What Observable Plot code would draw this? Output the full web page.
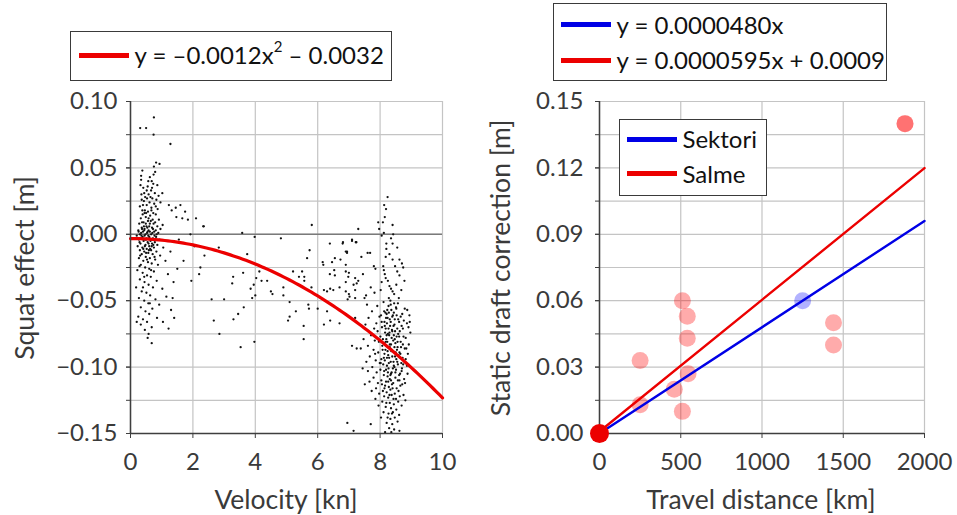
<!DOCTYPE html>
<html><head><meta charset="utf-8">
<script src="https://cdn.jsdelivr.net/npm/d3@7"></script>
<script src="https://cdn.jsdelivr.net/npm/@observablehq/plot@0.6"></script>
<style>
body{margin:0;background:#fff;font-family:Lato,"Open Sans",sans-serif;}
#wrap{position:relative;width:957px;height:515px;overflow:hidden;background:#fff;}
.panel{position:absolute;top:0;}
.title{position:absolute;white-space:nowrap;font-size:26.5px;color:#3a3a3a;transform:translate(-50%,-50%);line-height:30px;}
.title.rot{transform:translate(-50%,-50%) rotate(-90deg);}
.legend{position:absolute;background:#fff;border:1.5px solid #3a3a3a;box-sizing:border-box;font-size:24px;color:#111;}
.row{position:absolute;display:flex;align-items:center;white-space:nowrap;height:30px;line-height:30px;}
.sw{display:inline-block;width:50px;height:5px;margin-right:6px;}
sup{font-size:15px;line-height:0;position:relative;top:-3px;vertical-align:super;}
</style></head>
<body>
<div id="wrap">
  <div id="left" class="panel" style="left:0"></div>
  <div id="right" class="panel" style="left:480px"></div>
</div>
<script>
// ---------- Left panel data: squat effect [m] vs velocity [kn] ----------
const lowSpeed = [
[0.75,0.088],[0.31,0.080],[0.50,0.080],[0.74,0.075],[1.28,0.068],
[0.82,0.054],[0.93,0.053],[0.75,0.051],[0.38,0.048],[0.79,0.047],
[0.34,0.044],[0.34,0.041],[0.62,0.043],[0.68,0.040],[0.73,0.038],
[0.86,0.037],[0.55,0.036],[0.41,0.035],[0.66,0.033],[0.78,0.031],
[1.02,0.031],[0.35,0.030],[0.58,0.030],[0.90,0.029],[0.47,0.028],
[0.70,0.027],[0.83,0.026],[0.43,0.025],[0.61,0.024],[0.76,0.023],
[0.96,0.024],[0.52,0.022],[1.23,0.022],[0.30,0.021],[0.67,0.020],
[0.87,0.019],[1.32,0.018],[0.46,0.018],[0.56,0.017],[0.73,0.016],
[0.39,0.015],[0.81,0.015],[0.63,0.014],[1.47,0.013],[0.49,0.013],
[1.66,0.012],[0.33,0.012],[0.71,0.011],[0.91,0.011],[0.56,0.010],
[0.42,0.009],[1.84,0.011],[0.79,0.009],[0.28,0.008],[0.62,0.008],
[1.03,0.007],[0.51,0.006],[0.86,0.006],[0.36,0.005],[0.69,0.005],
[0.45,0.004],[0.96,0.004],[0.25,0.003],[0.58,0.003],[0.76,0.002],
[0.40,0.002],[0.53,0.001],[0.89,0.001],[0.30,0.000],[0.66,0.000],
[0.45,-0.001],[0.20,-0.001],[0.60,-0.002],[0.82,-0.002],[0.35,-0.003],
[0.72,-0.003],[0.50,-0.004],[0.27,-0.004],[0.93,-0.004],[0.64,-0.005],
[0.42,-0.005],[0.78,-0.006],[0.55,-0.006],[0.32,-0.007],[0.69,-0.007],
[0.48,-0.008],[0.86,-0.008],[0.23,-0.009],[0.60,-0.009],[0.38,-0.010],
[0.75,-0.010],[1.05,-0.010],[0.52,-0.011],[0.66,-0.012],[0.30,-0.012],
[0.44,-0.013],[0.83,-0.013],[0.57,-0.014],[0.71,-0.015],[0.36,-0.015],
[0.95,-0.016],[0.49,-0.017],[0.62,-0.018],[0.27,-0.018],[0.79,-0.019],
[0.41,-0.020],[0.56,-0.021],[1.12,-0.020],[0.68,-0.022],[0.33,-0.023],
[0.88,-0.023],[0.47,-0.025],[0.60,-0.026],[0.22,-0.027],[0.75,-0.028],
[0.39,-0.029],[1.20,-0.030],[0.53,-0.031],[0.65,-0.032],[0.30,-0.034],
[0.84,-0.035],[0.45,-0.036],[0.58,-0.038],[0.18,-0.040],[0.72,-0.040],
[1.02,-0.041],[0.36,-0.043],[0.51,-0.044],[0.63,-0.046],[0.27,-0.048],
[0.80,-0.049],[1.15,-0.047],[0.44,-0.050],[0.57,-0.052],[0.92,-0.053],
[0.33,-0.055],[0.70,-0.056],[0.48,-0.058],[1.30,-0.057],[0.60,-0.060],
[0.25,-0.062],[0.85,-0.063],[0.40,-0.064],[0.53,-0.066],[1.04,-0.066],
[0.33,-0.068],[0.68,-0.070],[1.22,-0.071],[0.46,-0.072],[0.58,-0.075],
[0.55,-0.078],[0.68,-0.082],[0.20,-0.066],[1.40,-0.063],[1.35,-0.048],
[0.34,0.001],[0.48,0.000],[0.57,-0.001],[0.70,0.001],[0.39,-0.002],
[0.62,0.002],[0.52,-0.003],[0.44,0.003],[0.77,-0.001],[0.29,-0.006],
[0.66,-0.004],[0.58,-0.007],[0.46,-0.009],[0.73,-0.008],[0.37,0.004],
[0.54,0.005],[0.81,0.003],[0.41,-0.011],[0.63,-0.011],[0.50,-0.014],
[0.31,-0.016],[0.77,-0.017],[0.58,0.012],[0.45,0.016],[0.67,0.018],
[0.36,0.026],[0.52,0.033],[0.74,0.045],[0.64,0.028],[0.40,0.022],
[0.43,0.006],[0.61,-0.003],[0.55,0.002],[0.68,-0.009],[0.35,-0.001],
[0.49,0.008],[0.72,0.004],[0.59,-0.012],[0.47,-0.004],[0.84,0.000],
[0.26,0.002],[0.65,0.010],[0.53,-0.019],[0.38,0.018],[0.80,-0.004],
[0.32,0.037],[0.57,0.040],[0.69,0.035],[0.44,0.031],[0.81,0.021],
[0.53,0.027],[0.37,0.009],[0.60,0.006],[0.74,0.008],[0.50,0.016],
[0.29,-0.024],[0.44,-0.032],[0.66,-0.027],[0.40,-0.040],[0.62,-0.052],
[1.45,0.020],[1.60,0.022],[1.75,0.017],[2.10,0.012],[2.33,0.006],
[1.92,0.000],[1.55,-0.004],[2.05,-0.009],[1.28,-0.013],[1.70,-0.020],
[1.50,-0.026],[1.95,-0.035],[1.38,-0.036],[2.20,-0.030]
];
const midSpeed = [
[2.35,0.006],[5.81,0.007],[3.58,0.001],[3.98,-0.002],[4.82,-0.003],[7.30,0.004],
[2.83,-0.010],[2.37,-0.016],[3.74,-0.015],[5.74,-0.012],[5.66,-0.018],[6.39,-0.007],
[6.80,-0.007],[7.10,-0.005],[7.24,-0.006],[6.94,-0.013],[6.55,-0.018],[6.16,-0.021],
[6.18,-0.023],[6.73,-0.019],[6.46,-0.021],[6.90,-0.023],[2.24,-0.025],[3.29,-0.032],
[3.61,-0.029],[3.26,-0.037],[4.13,-0.028],[4.03,-0.033],[4.20,-0.035],[4.38,-0.035],
[3.95,-0.038],[3.85,-0.041],[4.50,-0.043],[3.90,-0.048],[4.00,-0.046],[4.90,-0.040],
[4.90,-0.046],[5.21,-0.028],[5.40,-0.032],[5.50,-0.028],[5.57,-0.032],[5.57,-0.035],
[5.80,-0.040],[6.39,-0.030],[6.55,-0.031],[6.53,-0.027],[6.90,-0.028],[7.00,-0.029],
[6.20,-0.042],[6.30,-0.043],[6.40,-0.041],[6.50,-0.042],[6.70,-0.040],[6.90,-0.036],
[7.20,-0.033],[7.00,-0.045],[7.02,-0.047],[7.20,-0.042],[7.25,-0.037],[2.60,-0.049],
[3.00,-0.049],[3.63,-0.055],[5.10,-0.051],[5.70,-0.053],[5.72,-0.056],[6.00,-0.056],
[6.30,-0.058],[6.40,-0.065],[6.20,-0.068],[6.70,-0.067],[7.20,-0.063],[5.10,-0.062],
[5.05,-0.065],[2.67,-0.065],[3.30,-0.064],[5.55,-0.069],[2.85,-0.075],[3.97,-0.081],
[3.53,-0.085],[5.55,-0.079],[7.10,-0.084],[7.25,-0.086],[7.15,-0.148],[6.95,-0.142],
[4.55,-0.045],[5.30,-0.058],[3.45,-0.060]
];
const highSpeed = [
[8.24,0.028],[8.13,0.022],[8.19,0.019],[8.15,0.013],[8.09,0.009],[7.94,0.009],[8.40,0.007],
[7.97,0.004],[8.12,0.001],[8.42,0.000],[8.05,-0.001],[8.35,-0.003],[6.81,-0.006],[7.10,-0.004],
[7.22,-0.006],[8.20,-0.007],[8.40,-0.007],[6.90,-0.013],[6.94,-0.014],[7.40,-0.017],[7.60,-0.014],
[7.68,-0.014],[8.20,-0.011],[8.18,-0.017],[8.40,-0.019],[8.62,-0.019],[8.70,-0.022],[8.74,-0.025],
[7.80,-0.024],[7.85,-0.026],[8.10,-0.024],[8.12,-0.027],[8.15,-0.030],[8.18,-0.033],[6.98,-0.032],
[7.15,-0.038],[7.30,-0.035],[7.45,-0.030],[8.25,-0.035],[8.30,-0.039],[8.35,-0.041],[8.40,-0.043],
[8.45,-0.045],[8.55,-0.028],[8.62,-0.031],[8.52,-0.038],[8.68,-0.042],[7.70,-0.040],[7.55,-0.046],
[7.50,-0.048],[7.82,-0.044],[6.90,-0.043],[7.20,-0.048],[6.96,-0.049],[8.05,-0.036],[8.48,-0.024],
[8.30,-0.015],[8.55,-0.010],[8.02,-0.042],[8.78,-0.035],[8.28,-0.048],[8.60,-0.048],
[8.11,-0.051],[8.27,-0.054],[8.33,-0.050],[8.51,-0.055],[8.57,-0.052],[8.79,-0.056],[8.13,-0.058],
[8.36,-0.057],[8.44,-0.059],[8.52,-0.056],[8.71,-0.060],[8.87,-0.057],[7.58,-0.053],[7.74,-0.058],
[7.91,-0.054],[8.03,-0.061],[8.21,-0.060],[8.24,-0.063],[8.41,-0.061],[8.47,-0.064],[8.66,-0.062],
[8.76,-0.065],[8.94,-0.061],[7.63,-0.063],[7.98,-0.062],[8.14,-0.066],[8.22,-0.067],[8.31,-0.064],
[8.46,-0.068],[8.61,-0.066],[8.69,-0.069],[8.86,-0.067],[8.06,-0.070],[8.18,-0.071],[8.32,-0.069],
[8.38,-0.072],[8.55,-0.071],[8.63,-0.073],[8.91,-0.070],[7.53,-0.068],[7.81,-0.071],[7.88,-0.067],
[8.16,-0.074],[8.25,-0.075],[8.39,-0.073],[8.44,-0.076],[8.58,-0.075],[8.75,-0.077],[8.97,-0.074],
[8.01,-0.077],[8.20,-0.079],[8.29,-0.076],[8.42,-0.080],[8.53,-0.077],[8.66,-0.081],[8.82,-0.078],
[7.71,-0.076],[7.83,-0.080],[7.47,-0.079],[8.12,-0.082],[8.23,-0.081],[8.35,-0.083],[8.49,-0.082],
[8.56,-0.085],[8.73,-0.083],[8.84,-0.086],[8.07,-0.084],[8.17,-0.087],[8.31,-0.085],[8.41,-0.088],
[8.54,-0.087],[8.62,-0.089],[8.79,-0.086],[7.61,-0.084],[7.79,-0.087],[7.94,-0.089],[7.38,-0.086],
[8.14,-0.090],[8.26,-0.091],[8.36,-0.088],[8.48,-0.092],[8.59,-0.091],[8.72,-0.093],[8.89,-0.090],
[8.04,-0.094],[8.15,-0.095],[8.29,-0.093],[8.43,-0.096],[8.52,-0.094],[8.68,-0.097],[7.67,-0.092],
[7.86,-0.095],[7.99,-0.097],[7.56,-0.096],[8.10,-0.098],[8.22,-0.099],[8.34,-0.096],[8.46,-0.100],
[8.57,-0.098],[8.70,-0.101],[8.86,-0.099],[8.01,-0.102],[8.13,-0.103],[8.27,-0.101],[8.37,-0.104],
[8.51,-0.102],[8.64,-0.105],[7.75,-0.100],[7.89,-0.104],[7.61,-0.103],[7.44,-0.101],[8.12,-0.106],
[8.24,-0.107],[8.35,-0.105],[8.49,-0.108],[8.61,-0.106],[8.77,-0.109],[8.04,-0.110],[8.19,-0.111],
[8.31,-0.109],[8.42,-0.112],[8.57,-0.110],[8.71,-0.113],[7.79,-0.108],[7.93,-0.112],[7.66,-0.111],
[7.51,-0.113],[8.16,-0.114],[8.28,-0.115],[8.38,-0.113],[8.53,-0.116],[8.65,-0.114],[8.09,-0.118],
[8.21,-0.119],[8.33,-0.117],[8.47,-0.120],[8.59,-0.118],[8.75,-0.121],[7.87,-0.116],[7.97,-0.120],
[7.73,-0.118],[8.13,-0.122],[8.26,-0.123],[8.37,-0.121],[8.51,-0.124],[8.63,-0.122],[8.81,-0.125],
[8.07,-0.126],[8.31,-0.127],[8.44,-0.128],[8.58,-0.126],[7.95,-0.129],[8.18,-0.130],[8.35,-0.131],
[8.52,-0.132],[8.69,-0.129],[8.11,-0.134],[8.27,-0.135],[8.41,-0.134],[8.61,-0.136],[8.03,-0.138],
[8.33,-0.139],[8.47,-0.138],[8.21,-0.142],[8.39,-0.143],[8.56,-0.141],[8.29,-0.146],[8.45,-0.147],
[8.16,-0.149],[8.36,-0.149],[8.62,-0.148],[7.85,-0.124],[7.70,-0.143],
[8.19,-0.063],[8.34,-0.066],[8.27,-0.071],[8.43,-0.069],[8.21,-0.076],[8.37,-0.078],[8.31,-0.083],
[8.46,-0.085],[8.24,-0.088],[8.39,-0.092],[8.28,-0.097],[8.44,-0.099],[8.19,-0.102],[8.33,-0.106],
[8.49,-0.104],[8.26,-0.111],[8.40,-0.116],[8.17,-0.059],[8.48,-0.073],[8.56,-0.081],[8.65,-0.090],
[8.09,-0.079],[8.12,-0.093],[8.05,-0.066],[8.34,-0.053],[8.58,-0.064],[8.73,-0.071],[8.82,-0.094],
[8.69,-0.103],[8.80,-0.112],
[8.23,-0.057],[8.39,-0.062],[8.15,-0.069],[8.30,-0.074],[8.47,-0.079],[8.18,-0.081],[8.36,-0.087],
[8.22,-0.093],[8.41,-0.101],[8.25,-0.104],[8.35,-0.110],[8.14,-0.116],[8.30,-0.121],[8.43,-0.124],
[8.20,-0.127],[8.38,-0.135],[8.24,-0.138],[8.53,-0.061],[8.61,-0.077],[8.50,-0.089],[8.67,-0.085],
[8.55,-0.096],[8.74,-0.098],[8.62,-0.110],[8.08,-0.087],[8.02,-0.097],[8.06,-0.113],[7.96,-0.081],
[7.92,-0.073],[7.84,-0.090],[8.45,-0.052],[8.28,-0.059],[8.92,-0.083],[8.95,-0.066],[8.88,-0.105]
];
const fitA = -0.0012, fitC = -0.0032;          // y = a x^2 + c
const velTicks = [0, 2, 4, 6, 8, 10];
const squatTicks = [-0.15, -0.10, -0.05, 0.00, 0.05, 0.10];
const squatGrid = [-0.15,-0.125,-0.10,-0.075,-0.05,-0.025,0,0.025,0.05,0.075,0.10];

// ---------- Right panel data: static draft correction [m] vs travel distance [km] ----------
const salmeDist = [250, 250, 510, 540, 540, 545, 460, 510, 1440, 1440, 1880, 1880];
const salmeCorr = [0.033, 0.013, 0.060, 0.053, 0.043, 0.027, 0.020, 0.010, 0.050, 0.040, 0.140, 0.140];
const sektoriDist = [1250];
const sektoriCorr = [0.060];
const originDist = [0], originCorr = [0];
const sektoriSlope = 0.0000480, sektoriIntercept = 0;
const salmeSlope = 0.0000595, salmeIntercept = 0.0009;
const distTicks = [0, 500, 1000, 1500, 2000];
const corrTicks = [0, 0.03, 0.06, 0.09, 0.12, 0.15];
const corrGrid = [0,0.015,0.03,0.045,0.06,0.075,0.09,0.105,0.12,0.135,0.15];

const GRID = "#c4c4c4", AXIS = "#3f3f3f", RED = "#ec0000", BLUE = "#0000e6";
const fmt2 = d3.format(".2f");
const fmtInt = d3.format("d");
const style = {fontFamily: "Lato, 'Open Sans', sans-serif", fontSize: "24px", color: "#3a3a3a", background: "transparent", overflow: "visible"};

const squatPts = [...lowSpeed, ...midSpeed, ...highSpeed].map(([v, s]) => ({v, s}));
const fitXs = d3.range(0, 10.001, 0.1);
const fitCurve = fitXs.map(x => ({x, y: fitA * x * x + fitC}));

const left = Plot.plot({
  width: 470, height: 515,
  marginLeft: 130, marginRight: 28, marginTop: 101, marginBottom: 82,
  x: {domain: [0, 10]},
  y: {domain: [-0.15, 0.10]},
  style,
  marks: [
    Plot.gridY(squatGrid, {stroke: GRID, strokeOpacity: 1, strokeWidth: 1.2}),
    Plot.gridX(velTicks, {stroke: GRID, strokeOpacity: 1, strokeWidth: 1.2}),
    Plot.ruleY([0], {stroke: "#7a7a7a", strokeWidth: 1.5}),
    Plot.dot(squatPts, {x: "v", y: "s", r: 1.15, fill: "#111", stroke: "none"}),
    Plot.line(fitCurve, {x: "x", y: "y", stroke: RED, strokeWidth: 3.2}),
    Plot.ruleX([0], {stroke: AXIS, strokeWidth: 1.5}),
    Plot.ruleY([-0.15], {stroke: AXIS, strokeWidth: 1.5}),
    Plot.axisY(squatGrid, {tickSize: 4, text: null, stroke: AXIS, label: null}),
    Plot.axisY(squatTicks, {tickSize: 4, tickPadding: 9, tickFormat: fmt2, stroke: AXIS, label: null}),
    Plot.axisX(velTicks, {tickSize: 5, tickPadding: 14, tickFormat: fmtInt, stroke: AXIS, label: null})
  ]
});
document.getElementById("left").append(left);

const lineXs = [0, 2000];
const lines = [
  ...lineXs.map(x => ({x, y: sektoriSlope * x + sektoriIntercept, k: "Sektori"})),
  ...lineXs.map(x => ({x, y: salmeSlope * x + salmeIntercept, k: "Salme"}))
];
const salme = salmeDist.map((d, i) => ({d, c: salmeCorr[i]}));
const sektori = sektoriDist.map((d, i) => ({d, c: sektoriCorr[i]}));
const origin = originDist.map((d, i) => ({d, c: originCorr[i]}));

const right = Plot.plot({
  width: 477, height: 515,
  marginLeft: 119, marginRight: 33, marginTop: 101, marginBottom: 82,
  x: {domain: [0, 2000]},
  y: {domain: [0, 0.15]},
  style,
  marks: [
    Plot.gridY(corrGrid, {stroke: GRID, strokeOpacity: 1, strokeWidth: 1.2}),
    Plot.gridX(distTicks, {stroke: GRID, strokeOpacity: 1, strokeWidth: 1.2}),
    Plot.ruleX([0], {stroke: AXIS, strokeWidth: 1.5}),
    Plot.ruleY([0], {stroke: AXIS, strokeWidth: 1.5}),
    Plot.axisY(corrGrid, {tickSize: 4, text: null, stroke: AXIS, label: null}),
    Plot.axisY(corrTicks, {tickSize: 4, tickPadding: 12, tickFormat: fmt2, stroke: AXIS, label: null}),
    Plot.axisX(distTicks, {tickSize: 5, tickPadding: 14, tickFormat: fmtInt, stroke: AXIS, label: null}),
    Plot.dot(salme, {x: "d", y: "c", r: 8.5, fill: "#ff0000", fillOpacity: 0.33, stroke: "none"}),
    Plot.dot(sektori, {x: "d", y: "c", r: 8.5, fill: "#0000ff", fillOpacity: 0.3, stroke: "none"}),
    Plot.line(lines, {x: "x", y: "y", z: "k", stroke: d => d.k === "Salme" ? RED : BLUE, strokeWidth: 2.4}),
    Plot.dot(origin, {x: "d", y: "c", r: 9.5, fill: RED, stroke: "none"})
  ]
});
document.getElementById("right").append(right);

// ---------- Titles and legends (HTML overlays) ----------
const wrap = document.getElementById("wrap");
function title(text, cx, cy, rot) {
  const el = document.createElement("div");
  el.className = "title" + (rot ? " rot" : "");
  el.style.left = cx + "px"; el.style.top = cy + "px";
  el.textContent = text;
  wrap.append(el);
}
title("Squat effect [m]", 24, 268, true);
title("Velocity [kn]", 286, 499, false);
title("Static draft correction [m]", 500, 268, true);
title("Travel distance [km]", 761, 499, false);

function legend(box, rows) {
  const el = document.createElement("div");
  el.className = "legend";
  Object.assign(el.style, {left: box[0] + "px", top: box[1] + "px", width: box[2] + "px", height: box[3] + "px"});
  rows.forEach(r => {
    const row = document.createElement("div");
    row.className = "row";
    row.style.left = r.x + "px"; row.style.top = (r.y - 15) + "px";
    row.innerHTML = `<span class="sw" style="background:${r.color}"></span><span>${r.html}</span>`;
    el.append(row);
  });
  wrap.append(el);
}
legend([70, 31, 322, 50], [{x: 7.5, y: 23, color: RED, html: "y = –0.0012x<sup>2</sup> – 0.0032"}]);
legend([553, 3, 334, 78], [
  {x: 6.5, y: 20.5, color: BLUE, html: "y = 0.0000480x"},
  {x: 6.5, y: 56, color: RED, html: "y = 0.0000595x + 0.0009"}
]);
legend([619, 119, 148, 77], [
  {x: 6.5, y: 19, color: BLUE, html: "Sektori"},
  {x: 6.5, y: 53.5, color: RED, html: "Salme"}
]);
</script>
</body></html>
